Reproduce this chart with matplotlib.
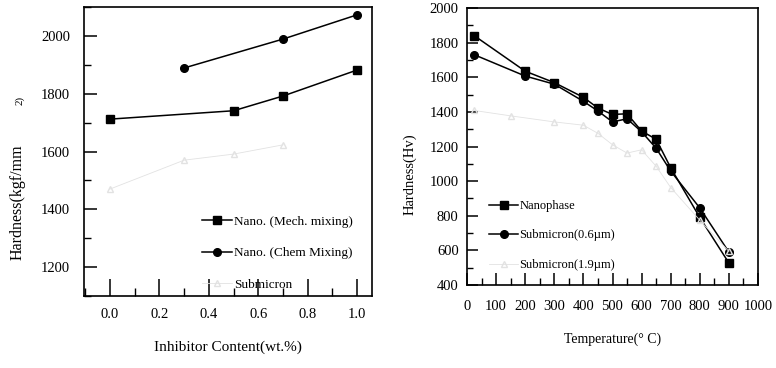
import matplotlib
matplotlib.use("Agg")
import matplotlib.pyplot as plt
from matplotlib.ticker import MultipleLocator

plt.rcParams['font.family'] = ['Liberation Serif', 'DejaVu Serif']

# ---- Left panel data ----
inhib_mech = [0.0, 0.5, 0.7, 1.0]
hard_mech = [1712, 1741, 1792, 1882]
inhib_chem = [0.3, 0.7, 1.0]
hard_chem = [1889, 1989, 2073]
inhib_sub = [0.0, 0.3, 0.5, 0.7]
hard_sub = [1470, 1570, 1591, 1623]

# ---- Right panel data ----
temp = [25, 200, 300, 400, 450, 500, 550, 600, 650, 700, 800, 900]
hv_nano = [1840, 1635, 1569, 1484, 1422, 1385, 1389, 1289, 1242, 1077, 790, 527]
hv_sub06 = [1730, 1607, 1560, 1461, 1405, 1342, 1360, 1285, 1190, 1058, 845, 590]
temp_sub19 = [25, 150, 300, 400, 450, 500, 550, 600, 650, 700, 800, 900]
hv_sub19 = [1408, 1377, 1342, 1323, 1276, 1210, 1162, 1181, 1086, 963, 774, 594]

fig = plt.figure(figsize=(7.76, 3.68), dpi=100)
W, H = 776, 368

def box(l, r, t, b):
    return [l / W, 1 - b / H, (r - l) / W, (b - t) / H]

ax1 = fig.add_axes(box(84, 372, 7, 296))
ax2 = fig.add_axes(box(467, 758, 8, 285))

lw = 1.1
ms = 5.5
faint = '#e2e2e2'

ax1.plot(inhib_mech, hard_mech, '-s', color='black', lw=lw, ms=ms, label='Nano. (Mech. mixing)')
ax1.plot(inhib_chem, hard_chem, '-o', color='black', lw=lw, ms=ms, label='Nano. (Chem Mixing)')
ax1.plot(inhib_sub, hard_sub, '-^', color=faint, lw=0.6, ms=4, mfc='none', label='Submicron')

ax1.set_xlim(-0.105, 1.06)
ax1.set_ylim(1100, 2100)
ax1.xaxis.set_minor_locator(MultipleLocator(0.1))
ax1.yaxis.set_minor_locator(MultipleLocator(100))
ax1.set_xticks([0.0, 0.2, 0.4, 0.6, 0.8, 1.0])
ax1.set_xticklabels(['0.0', '0.2', '0.4', '0.6', '0.8', '1.0'])
ax1.set_yticks([1200, 1400, 1600, 1800, 2000])
ax1.tick_params(axis='x', which='major', direction='in', length=12, width=1.1, pad=9, labelsize=10.5)
ax1.tick_params(axis='x', which='minor', direction='in', length=6, width=1.0)
ax1.tick_params(axis='y', which='major', direction='in', length=9, width=1.1, pad=10, labelsize=10.5)
ax1.tick_params(axis='y', which='minor', direction='in', length=5, width=1.0)
ax1.set_xlabel('Inhibitor Content(wt.%)', fontsize=11, labelpad=14)
leg1 = ax1.legend(loc='upper left', bbox_to_anchor=(0.39, 0.296), frameon=False,
                  fontsize=9.5, handlelength=2.3, handletextpad=0.15, labelspacing=1.45,
                  borderaxespad=0)

fig.text(18 / W, 1 - 202 / H, 'Hardness(kgf/mm', rotation=90, ha='center', va='center', fontsize=11.5)
fig.text(20 / W, 1 - 100 / H, '2)', rotation=90, ha='center', va='center', fontsize=8)

ax2.plot(temp, hv_nano, '-s', color='black', lw=lw, ms=ms, label='Nanophase')
ax2.plot(temp, hv_sub06, '-o', color='black', lw=lw, ms=ms, label='Submicron(0.6\u00b5m)')
ax2.plot(temp_sub19, hv_sub19, '-^', color=faint, lw=0.6, ms=4, mfc='none', label='Submicron(1.9\u00b5m)')

ax2.set_xlim(0, 1000)
ax2.set_ylim(400, 2000)
ax2.xaxis.set_major_locator(MultipleLocator(100))
ax2.xaxis.set_minor_locator(MultipleLocator(50))
ax2.yaxis.set_major_locator(MultipleLocator(200))
ax2.yaxis.set_minor_locator(MultipleLocator(100))
ax2.tick_params(axis='x', which='major', direction='in', length=9, width=1.1, pad=11, labelsize=10.5)
ax2.tick_params(axis='x', which='minor', direction='in', length=5, width=1.0)
ax2.tick_params(axis='y', which='major', direction='in', length=8, width=1.1, pad=6, labelsize=10.5)
ax2.tick_params(axis='y', which='minor', direction='in', length=4, width=1.0)
ax2.set_xlabel('Temperature(\u00b0 C)', fontsize=10, labelpad=14)
ax2.set_ylabel('Hardness(Hv)', fontsize=10.5)
ax2.yaxis.set_label_coords(-0.172, 0.40)
leg2 = ax2.legend(loc='upper left', bbox_to_anchor=(0.06, 0.325), frameon=False,
                  fontsize=9, handlelength=2.3, handletextpad=0.1, labelspacing=1.4,
                  borderaxespad=0)

for ax in (ax1, ax2):
    for s in ax.spines.values():
        s.set_linewidth(1.2)

fig.savefig('out.png', dpi=100)
